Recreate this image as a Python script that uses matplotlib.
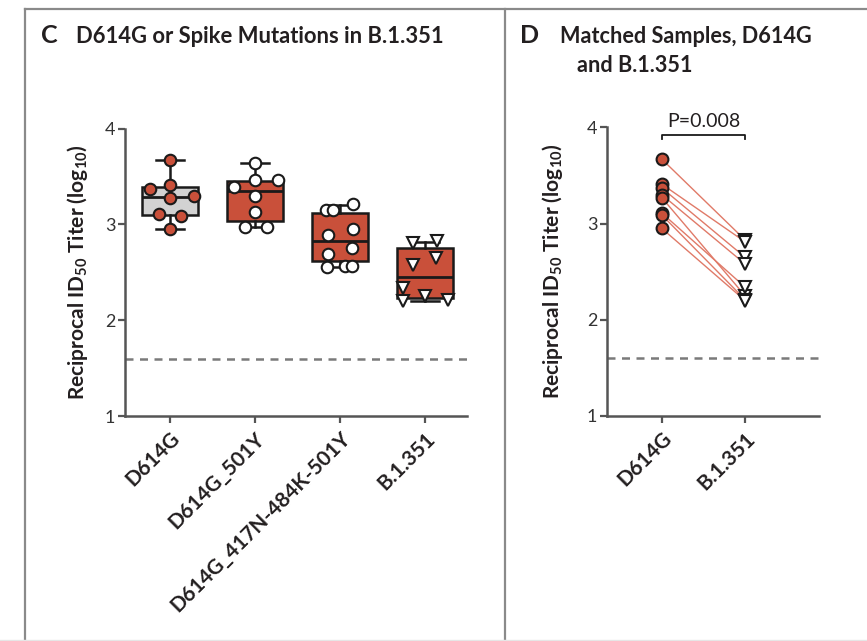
import matplotlib
matplotlib.use("Agg")
import matplotlib.pyplot as plt
from matplotlib.lines import Line2D
import numpy as np

plt.rcParams['font.family'] = ['Lato', 'DejaVu Sans']
plt.rcParams['mathtext.fontset'] = 'custom'
plt.rcParams['mathtext.rm'] = 'Lato:bold'
plt.rcParams['mathtext.it'] = 'Lato:bold'
plt.rcParams['mathtext.bf'] = 'Lato:bold'

# ---------------- data ----------------
categories_c = ["D614G", "D614G_501Y", "D614G_417N-484K-501Y", "B.1.351"]
d614g_vals = [3.67, 3.37, 3.41, 3.30, 3.27, 3.11, 3.09, 2.95]
d614g_501y_vals = [3.64, 3.39, 3.46, 3.46, 3.30, 3.13, 2.97, 2.97]
triple_vals = [3.15, 3.15, 3.21, 2.89, 2.95, 2.69, 2.75, 2.55, 2.57, 2.57]
b1351_vals = [2.81, 2.83, 2.58, 2.65, 2.34, 2.20, 2.25, 2.21]

# box statistics (low whisker, q1, median, q3, high whisker)
box_whislo = [2.95, 2.97, 2.55, 2.20]
box_q1 = [3.10, 3.03, 2.62, 2.23]
box_med = [3.29, 3.35, 2.83, 2.45]
box_q3 = [3.39, 3.45, 3.12, 2.75]
box_whishi = [3.67, 3.64, 3.20, 2.82]

# matched samples (panel D)
categories_d = ["D614G", "B.1.351"]
matched_d614g = [3.67, 3.41, 3.37, 3.30, 3.27, 3.11, 3.09, 2.95]
matched_b1351 = [2.83, 2.81, 2.65, 2.58, 2.25, 2.34, 2.21, 2.20]
p_value_label = "P=0.008"
detection_limit = 1.6

yticks = [1, 2, 3, 4]

# jitter offsets (layout only)
jit = [
    [0, -0.24, 0, 0.28, 0, -0.13, 0.13, 0],
    [0, -0.25, 0, 0.27, 0, 0, -0.12, 0.14],
    [-0.16, -0.08, 0.15, -0.14, 0.15, -0.14, 0.14, -0.15, 0.06, 0.14],
    [-0.14, 0.14, -0.14, 0.13, -0.26, -0.26, 0.0, 0.27],
]

RED = "#c9503a"
GRAY_FILL = "#d2d2d2"
SPINE = "#555555"
TXT = "#231f20"

W, H = 867, 641
fig = plt.figure(figsize=(W / 100, H / 100), dpi=100)


def fx(px):
    return px / W


def fy(py):
    return 1 - py / H


# frame lines
fig.add_artist(Line2D([fx(25), 1], [fy(8.5), fy(8.5)], color="#8a8a8a", lw=1.6, transform=fig.transFigure))
fig.add_artist(Line2D([fx(25), fx(25)], [fy(8.5), 0], color="#8a8a8a", lw=1.6, transform=fig.transFigure))
fig.add_artist(Line2D([fx(505), fx(505)], [fy(8.5), 0], color="#8a8a8a", lw=1.6, transform=fig.transFigure))
fig.add_artist(Line2D([0, 1], [fy(639.5), fy(639.5)], color="#e6e6e6", lw=1.0, transform=fig.transFigure))

# titles
fig.text(fx(41), fy(43), "C", fontsize=18, fontweight="bold", color=TXT, va="baseline")
fig.text(fx(76), fy(43), "D614G or Spike Mutations in B.1.351", fontsize=15.8, fontweight="bold", color=TXT, va="baseline")
fig.text(fx(520), fy(43), "D", fontsize=18, fontweight="bold", color=TXT, va="baseline")
fig.text(fx(560), fy(43), "Matched Samples, D614G", fontsize=15.6, fontweight="bold", color=TXT, va="baseline")
fig.text(fx(577), fy(72), "and B.1.351", fontsize=15.6, fontweight="bold", color=TXT, va="baseline")


def style_axes(ax, pad):
    for s in ["top", "right"]:
        ax.spines[s].set_visible(False)
    for s in ["left", "bottom"]:
        ax.spines[s].set_color(SPINE)
        ax.spines[s].set_linewidth(1.8)
    ax.set_ylim(1, 4)
    ax.set_yticks(yticks)
    ax.set_yticklabels([str(t) for t in yticks])
    ax.tick_params(axis="both", direction="out", length=5, width=1.6, color=SPINE)
    ax.tick_params(axis="y", labelsize=13, labelcolor="#333333", pad=2)
    ax.tick_params(axis="x", labelsize=15, labelcolor=TXT, pad=4)
    ax.set_ylabel("Reciprocal ID$_{50}$ Titer (log$_{10}$)", fontsize=15, fontweight="bold", color=TXT, labelpad=pad)


# ---------------- panel C ----------------
y4, y1 = 128.5, 416
axc = fig.add_axes([fx(125), fy(y1), fx(467) - fx(125), fy(y4) - fy(y1)])
style_axes(axc, 11)
axc.set_xlim(-0.53, 3.494)
axc.axhline(detection_limit, color="#7a7a7a", lw=1.8, dashes=(3.2, 2.6))

stats = []
for i in range(4):
    stats.append(dict(med=box_med[i], q1=box_q1[i], q3=box_q3[i],
                      whislo=box_whislo[i], whishi=box_whishi[i], fliers=[]))
bp = axc.bxp(stats, positions=range(4), widths=0.65, patch_artist=True,
             showfliers=False,
             boxprops=dict(edgecolor="#1a1a1a", linewidth=1.8),
             medianprops=dict(color="#1a1a1a", linewidth=2.0),
             whiskerprops=dict(color="#1a1a1a", linewidth=1.8),
             capprops=dict(color="#1a1a1a", linewidth=1.8),
             capwidths=0.33, zorder=2)
fills = [GRAY_FILL, RED, RED, RED]
for patch, fc in zip(bp["boxes"], fills):
    patch.set_facecolor(fc)

groups = [d614g_vals, d614g_501y_vals, triple_vals, b1351_vals]
mfc = [RED, "white", "white", "white"]
mk = ["o", "o", "o", "v"]
for i, vals in enumerate(groups):
    xs = [i + j for j in jit[i]]
    axc.plot(xs, vals, linestyle="none", marker=mk[i], markersize=8.3,
             markerfacecolor=mfc[i], markeredgecolor="#1a1a1a", markeredgewidth=1.5, zorder=3,
             clip_on=False)

axc.set_xticks(range(4))
axc.set_xticklabels(categories_c, rotation=45, ha="right", va="top",
                    rotation_mode="anchor", fontweight="bold")

# ---------------- panel D ----------------
y4d, y1d = 127.3, 416
axd = fig.add_axes([fx(607), fy(y1d), fx(819) - fx(607), fy(y4d) - fy(y1d)])
style_axes(axd, 16)
axd.set_xlim(-0.657, 1.888)
axd.axhline(detection_limit, color="#7a7a7a", lw=1.8, dashes=(3.2, 2.6))

for a, b in zip(matched_d614g, matched_b1351):
    axd.plot([0, 1], [a, b], color="#e07a68", lw=1.0, zorder=2)
axd.plot([0] * len(matched_d614g), matched_d614g, linestyle="none", marker="o", markersize=8.5,
         markerfacecolor=RED, markeredgecolor="#1a1a1a", markeredgewidth=1.5, zorder=3)
axd.plot([1] * len(matched_b1351), matched_b1351, linestyle="none", marker="v", markersize=8.5,
         markerfacecolor="white", markeredgecolor="#1a1a1a", markeredgewidth=1.5, zorder=3)

axd.set_xticks([0, 1])
axd.set_xticklabels(categories_d, rotation=45, ha="right", va="top",
                    rotation_mode="anchor", fontweight="bold")

# significance bracket
axd.plot([0, 0, 1, 1], [3.88, 3.92, 3.92, 3.88], color="#1a1a1a", lw=1.3, clip_on=False)
axd.text(0.5, 3.97, p_value_label, ha="center", va="bottom", fontsize=14, color=TXT)

fig.savefig("out.png", dpi=100)
